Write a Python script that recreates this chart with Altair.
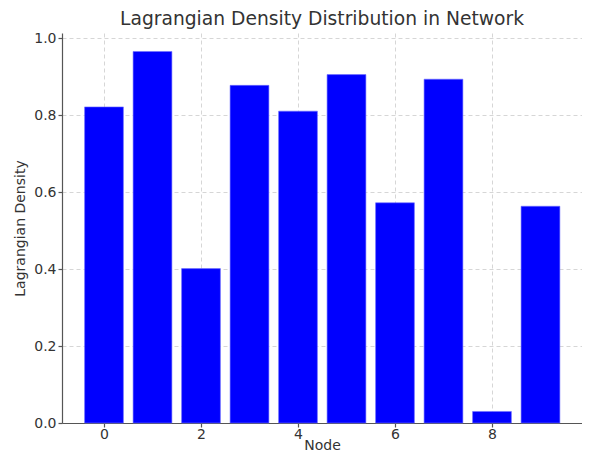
import altair as alt
import pandas as pd

nodes = [0, 1, 2, 3, 4, 5, 6, 7, 8, 9]
density = [0.821, 0.965, 0.401, 0.877, 0.810, 0.905, 0.572, 0.893, 0.030, 0.563]

df = pd.DataFrame({"node": nodes, "density": density})

font = "DejaVu Sans"
grey = "#333333"

chart = (
    alt.Chart(df)
    .transform_calculate(x0="datum.node - 0.4", x1="datum.node + 0.4")
    .mark_bar(color="#0000ff", stroke="#6f6fff", strokeWidth=0.6)
    .encode(
        x=alt.X(
            "x0:Q",
            title="Node",
            scale=alt.Scale(domain=[-0.866, 9.856], nice=False, zero=False),
            axis=alt.Axis(values=[0, 2, 4, 6, 8], format="d", labelPadding=0),
        ),
        x2="x1:Q",
        y=alt.Y(
            "density:Q",
            title="Lagrangian Density",
            scale=alt.Scale(domain=[0, 1.013], nice=False),
            axis=alt.Axis(values=[0, 0.2, 0.4, 0.6, 0.8, 1.0], format=".1f", labelPadding=2),
        ),
        y2=alt.datum(0),
    )
    .properties(
        width=520,
        height=390,
        title=alt.Title(
            "Lagrangian Density Distribution in Network",
            fontSize=18.7,
            font=font,
            fontWeight="normal",
            color=grey,
            anchor="middle",
            offset=2,
        ),
        autosize=alt.AutoSizeParams(type="none"),
        padding={"left": 54, "top": 25, "right": 0, "bottom": 29},
    )
    .configure_view(stroke=None)
    .configure_axis(
        labelFont=font,
        titleFont=font,
        labelFontSize=14,
        titleFontSize=14,
        titleFontWeight="normal",
        labelColor=grey,
        titleColor=grey,
        domainColor="#555555",
        domainWidth=1.2,
        tickColor="#555555",
        tickSize=4,
        tickWidth=1.2,
        grid=True,
        gridColor="#cccccc",
        gridDash=[4, 3],
        gridWidth=0.8,
    )
    .configure_axisX(labelAngle=0, titleY=26, titleBaseline="alphabetic")
    .configure_axisY(titleX=-35, titleY=195, titleBaseline="bottom", titleAngle=-90)
)

chart.save("out.html", embed_options={"renderer": "svg", "actions": False})
